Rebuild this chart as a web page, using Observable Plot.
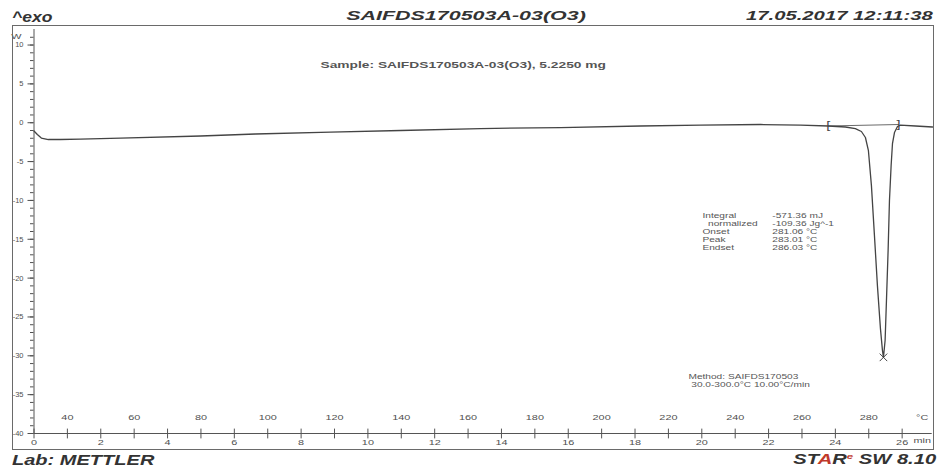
<!DOCTYPE html>
<html><head><meta charset="utf-8">
<script src="https://cdn.jsdelivr.net/npm/d3@7"></script>
<script src="https://cdn.jsdelivr.net/npm/@observablehq/plot@0.6"></script>
<style>
html,body{margin:0;padding:0;background:#fff;}
body{width:940px;height:472px;position:relative;overflow:hidden;font-family:"Liberation Sans",Arial,sans-serif;}
.hd{position:absolute;white-space:nowrap;font-weight:bold;font-style:italic;color:#333;line-height:1;}
#frame{position:absolute;left:12px;top:25px;width:922px;height:425px;border:1px solid #6a6a6a;box-sizing:border-box;pointer-events:none;}
#chart{position:absolute;left:0;top:26px;}
</style></head><body>
<div class="hd" style="left:12px;top:9.6px;font-size:14px;transform:scaleX(1.25);transform-origin:left center;">^exo</div>
<div class="hd" style="left:465.5px;top:8.5px;font-size:13px;transform:translateX(-50%) scaleX(1.65);transform-origin:center;">SAIFDS170503A-03(O3)</div>
<div class="hd" style="right:7px;top:8.5px;font-size:13px;transform:scaleX(1.56);transform-origin:right center;">17.05.2017 12:11:38</div>
<div id="chart"></div>
<div id="frame"></div>
<div class="hd" style="left:12px;top:453px;font-size:14px;transform:scaleX(1.43);transform-origin:left center;">Lab: METTLER</div>
<div class="hd" style="right:4px;top:451.5px;font-size:14px;transform:scaleX(1.44);transform-origin:right center;">ST<span style="color:#c0392b">A</span>R<span style="color:#c0392b;font-size:8px;vertical-align:5px">e</span> SW 8.10</div>
<script>
// Heat-flow curve (time in min, heat flow in W-units as labelled)
const timeMin = [0.0, 0.1, 0.22, 0.43, 0.79, 1.39, 2.59, 4.99, 6.63, 8.88, 10.98, 13.37, 15.77, 18.16, 19.96, 21.76, 22.96, 23.79, 24.30, 24.60, 24.78, 24.90, 24.99, 25.08, 25.17, 25.26, 25.35, 25.41, 25.44, 25.49, 25.53, 25.58, 25.62, 25.67, 25.71, 25.77, 25.86, 25.95, 26.40, 26.91];
const heatFlow = [-1.07, -1.52, -1.97, -2.16, -2.16, -2.10, -1.97, -1.71, -1.45, -1.20, -1.00, -0.75, -0.62, -0.42, -0.30, -0.23, -0.30, -0.42, -0.55, -0.75, -1.13, -1.90, -3.6, -8.1, -14.5, -21.0, -26.5, -29.3, -30.2, -28.0, -22.9, -16.4, -10.0, -5.5, -2.7, -1.26, -0.49, -0.30, -0.42, -0.55];

// Integration limits and peak
const limitTime = [23.79, 25.89];
const limitFlow = [-0.42, -0.23];
const peakTime = [25.44];
const peakFlow = [-30.2];

// Axes
const yMajor = [10, 5, 0, -5, -10, -15, -20, -25, -30, -35, -40];
const yMinor = d3.range(-40, 12, 1);
const timeTicks = [0, 2, 4, 6, 8, 10, 12, 14, 16, 18, 20, 22, 24, 26];
const minuteTicks = d3.range(0, 27, 1);
const tempTicks = [40, 60, 80, 100, 120, 140, 160, 180, 200, 220, 240, 260, 280];
const startTemp = 30, heatingRate = 10; // 30.0-300.0 °C at 10.00 °C/min

// Texts
const sampleText = "Sample: SAIFDS170503A-03(O3), 5.2250 mg";
const resultLabels = ["Integral", "\u00a0\u00a0normalized", "Onset", "Peak", "Endset"];
const resultValues = ["-571.36 mJ", "-109.36 Jg^-1", "281.06 °C", "283.01 °C", "286.03 °C"];
const methodLines = ["Method: SAIFDS170503", "\u00a030.0-300.0°C 10.00°C/min"];

const curve = timeMin.map((t, i) => ({t, w: heatFlow[i]}));
const limits = limitTime.map((t, i) => ({t, w: limitFlow[i]}));
const peak = peakTime.map((t, i) => ({t, w: peakFlow[i]}));

const ink = "#444";
const tickShape = {draw(ctx, l) { ctx.moveTo(0, 0); ctx.lineTo(0, -l); }};

const chart = Plot.plot({
  width: 940,
  height: 424,
  marginLeft: 33.5,
  marginRight: 8.3,
  marginTop: 3,
  marginBottom: 17,
  x: {domain: [0, 26.9], label: null},
  y: {domain: [-40, 12], label: null},
  style: {fontFamily: "Liberation Sans, Arial, sans-serif", fontSize: "7.5px", color: "#505050", background: "transparent", overflow: "visible"},
  marks: [
    Plot.ruleX([0], {stroke: "#555"}),
    Plot.ruleY([-40], {stroke: "#555"}),
    Plot.axisY({ticks: yMinor, tickSize: 3.5, tickFormat: () => ""}),
    Plot.axisY({ticks: yMajor, tickSize: 6, tickPadding: 4.5, tickFormat: d => String(d)}),
    Plot.text(["W"], {frameAnchor: "top-left", dx: -12.5, dy: 4, textAnchor: "end", fill: "#505050"}),
    Plot.vector(minuteTicks, {x: d => d, frameAnchor: "bottom", length: 9, anchor: "middle", shape: tickShape, stroke: "#555", strokeWidth: 1}),
    Plot.axisX({ticks: timeTicks, tickSize: 0, tickPadding: 6, tickFormat: d => String(d)}),
    Plot.text(tempTicks, {x: d => (d - startTemp) / heatingRate, frameAnchor: "bottom", dy: -13.5, text: d => String(d), fill: "#505050"}),
    Plot.text(["°C"], {frameAnchor: "bottom-right", dx: -10, dy: -13.5, textAnchor: "middle", fill: "#505050"}),
    Plot.text(["min"], {frameAnchor: "bottom-right", dx: -10, dy: 9.5, textAnchor: "middle", fill: "#505050"}),
    Plot.line(limits, {x: "t", y: "w", stroke: ink, strokeWidth: 0.8}),
    Plot.line(curve, {x: "t", y: "w", stroke: ink, strokeWidth: 1.3}),
    Plot.text(limits, {x: "t", y: "w", text: (d, i) => i === 0 ? "[" : "]", fontSize: 10, fill: ink}),
    Plot.dot(peak, {x: "t", y: "w", symbol: "times", r: 3.5, stroke: ink, strokeWidth: 1}),
    Plot.text([sampleText], {x: 8.58, y: 7.5, textAnchor: "start", fontSize: 9.5, fontWeight: "bold", fill: "#555"}),
    Plot.text([resultLabels.join("\n")], {x: 20.02, y: -14.0, textAnchor: "start", fontSize: 7, lineHeight: 1.13, fill: "#555"}),
    Plot.text([resultValues.join("\n")], {x: 22.11, y: -14.0, textAnchor: "start", fontSize: 7, lineHeight: 1.13, fill: "#555"}),
    Plot.text([methodLines.join("\n")], {x: 19.6, y: -33.2, textAnchor: "start", fontSize: 7, lineHeight: 1.05, fill: "#555"})
  ]
});

// Horizontal stretch of the printed lettering
const S = 1.45;
chart.querySelectorAll("text").forEach(t => {
  if (t.closest('[aria-label="y-axis tick label"]')) return;
  const x = +(t.getAttribute("x") || 0);
  const tr = t.getAttribute("transform") || "";
  t.setAttribute("transform", `${tr} translate(${x},0) scale(${S},1) translate(${-x},0)`);
});
document.getElementById("chart").append(chart);
</script>
</body></html>
